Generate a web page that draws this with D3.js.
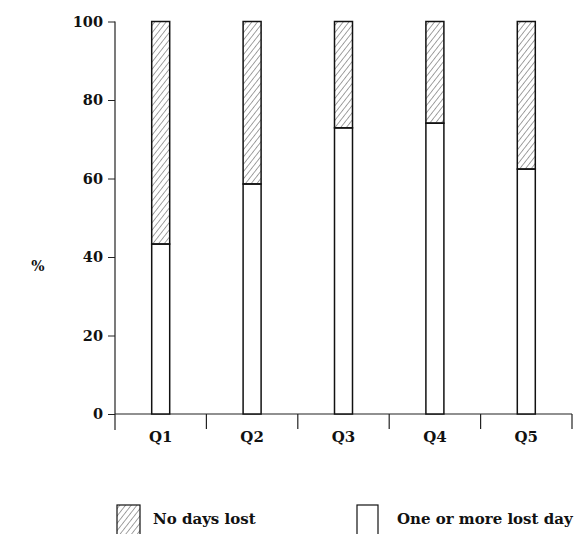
<!DOCTYPE html>
<html>
<head>
<meta charset="utf-8">
<script src="https://cdn.jsdelivr.net/npm/d3@7"></script>
<style>
  html, body { margin: 0; padding: 0; background: #fff; overflow: hidden; }
  text { font-family: 'DejaVu Serif', serif; font-weight: bold; fill: #111; }
</style>
</head>
<body>
<script>
var categories = ['Q1', 'Q2', 'Q3', 'Q4', 'Q5'];
var oneOrMore = [43.3, 58.6, 72.9, 74.1, 62.4];   // bottom, open
var noDays = [56.7, 41.4, 27.1, 25.9, 37.6];      // top, hatched
var yTicks = [0, 20, 40, 60, 80, 100];
var legendLabels = ['No days lost', 'One or more lost day'];

var w = 576, h = 534;
var plotLeft = 115, plotRight = 572, plotTop = 21.5, plotBottom = 414;

var svg = d3.select('body').append('svg')
  .attr('width', w)
  .attr('height', h);

var defs = svg.append('defs');
defs.append('pattern')
  .attr('id', 'hatch')
  .attr('patternUnits', 'userSpaceOnUse')
  .attr('width', 4.5)
  .attr('height', 4.5)
  .attr('patternTransform', 'rotate(38)')
  .append('line')
    .attr('x1', 0).attr('y1', 0)
    .attr('x2', 0).attr('y2', 4.5)
    .attr('stroke', '#333')
    .attr('stroke-width', 0.9);

var x = d3.scaleBand()
  .domain(categories)
  .range([plotLeft, plotRight]);

var y = d3.scaleLinear()
  .domain([0, 100])
  .range([plotBottom, plotTop]);

var barW = 18;

// y axis
var yAxis = svg.append('g')
  .attr('transform', 'translate(' + plotLeft + ',0)')
  .call(d3.axisLeft(y).tickValues(yTicks).tickSize(7).tickPadding(5));
yAxis.select('.domain').remove();
yAxis.selectAll('.tick line').attr('stroke', '#222');
yAxis.selectAll('.tick text')
  .style('font-size', '14.5px')
  .style('font-family', 'DejaVu Serif')
  .style('font-weight', 'bold')
  .attr('fill', '#111');
svg.append('line')
  .attr('x1', plotLeft).attr('x2', plotLeft)
  .attr('y1', y(100)).attr('y2', plotBottom + 16)
  .attr('stroke', '#222').attr('stroke-width', 1.2);

// x axis
svg.append('line')
  .attr('x1', plotLeft).attr('x2', plotRight)
  .attr('y1', plotBottom).attr('y2', plotBottom)
  .attr('stroke', '#222').attr('stroke-width', 1.2);

svg.selectAll('.sep')
  .data(categories)
  .enter()
  .append('line')
    .attr('x1', function(d) { return x(d) + x.bandwidth(); })
    .attr('x2', function(d) { return x(d) + x.bandwidth(); })
    .attr('y1', plotBottom)
    .attr('y2', plotBottom + 15)
    .attr('stroke', '#222')
    .attr('stroke-width', 1.2);

svg.selectAll('.xlabel')
  .data(categories)
  .enter()
  .append('text')
    .text(function(d) { return d; })
    .attr('x', function(d) { return x(d) + x.bandwidth() / 2; })
    .attr('y', plotBottom + 28)
    .attr('text-anchor', 'middle')
    .style('font-size', '15px');

// bars: bottom open part
svg.selectAll('.lower')
  .data(oneOrMore)
  .enter()
  .append('rect')
    .attr('x', function(d, i) { return x(categories[i]) + (x.bandwidth() - barW) / 2; })
    .attr('y', function(d) { return y(d); })
    .attr('width', barW)
    .attr('height', function(d) { return y(0) - y(d); })
    .attr('fill', '#fff')
    .attr('stroke', '#111')
    .attr('stroke-width', 1.5);

// bars: top hatched part
svg.selectAll('.upper')
  .data(noDays)
  .enter()
  .append('rect')
    .attr('x', function(d, i) { return x(categories[i]) + (x.bandwidth() - barW) / 2; })
    .attr('y', function(d, i) { return y(oneOrMore[i] + d); })
    .attr('width', barW)
    .attr('height', function(d) { return y(0) - y(d); })
    .attr('fill', 'url(#hatch)')
    .attr('stroke', '#111')
    .attr('stroke-width', 1.5);

// y label
svg.append('text')
  .text('%')
  .attr('x', 38)
  .attr('y', 271)
  .attr('text-anchor', 'middle')
  .style('font-size', '14px');

// legend
var legend = svg.append('g');
var legendX = [117, 357];
legend.selectAll('.lbox')
  .data(legendLabels)
  .enter()
  .append('rect')
    .attr('x', function(d, i) { return legendX[i]; })
    .attr('y', 505)
    .attr('width', function(d, i) { return i === 0 ? 23 : 21; })
    .attr('height', 34)
    .attr('fill', function(d, i) { return i === 0 ? 'url(#hatch)' : '#fff'; })
    .attr('stroke', '#111')
    .attr('stroke-width', 1.2);

legend.selectAll('.ltext')
  .data(legendLabels)
  .enter()
  .append('text')
    .text(function(d) { return d; })
    .attr('x', function(d, i) { return legendX[i] + (i === 0 ? 36 : 40); })
    .attr('y', 524)
    .style('font-size', '15px');
</script>
</body>
</html>
